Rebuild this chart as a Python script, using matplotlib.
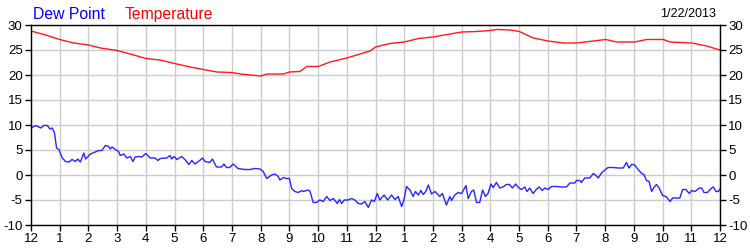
import numpy as np
import matplotlib
matplotlib.use("Agg")
import matplotlib.pyplot as plt

plt.rcParams["font.family"] = ["Liberation Sans", "DejaVu Sans"]
plt.rcParams["axes.unicode_minus"] = False

# hours since midnight, temperature readings
temp_hours = [0, 0.45, 1.0, 1.49, 2.0, 2.42, 3.0, 3.58, 4.0, 4.5, 5.0, 5.55, 6.0, 6.48,
              7.0, 7.29, 8.0, 8.22, 8.8, 9.0, 9.37, 9.6, 10.0, 10.42, 11.0, 11.46, 11.81,
              12.0, 12.5, 13.0, 13.5, 14.0, 14.5, 15.0, 15.53, 16.0, 16.23, 16.69, 17.01,
              17.5, 18.01, 18.55, 19.01, 19.59, 20.02, 20.4, 21.03, 21.45, 22.03, 22.26,
              23.02, 23.53, 24.0]
temp_vals = [28.8, 28.1, 27.1, 26.4, 26.0, 25.4, 24.9, 24.0, 23.3, 23.0, 22.3, 21.6, 21.1, 20.6,
             20.5, 20.2, 19.8, 20.2, 20.2, 20.6, 20.7, 21.7, 21.7, 22.6, 23.4, 24.2, 24.8,
             25.6, 26.3, 26.6, 27.3, 27.6, 28.1, 28.6, 28.7, 28.9, 29.1, 29.0, 28.7,
             27.4, 26.8, 26.4, 26.4, 26.8, 27.1, 26.6, 26.6, 27.1, 27.1, 26.6,
             26.4, 25.8, 25.0]

dew_hours = [0.00, 0.16, 0.34, 0.45, 0.57, 0.66, 0.74, 0.82, 0.89, 0.97, 1.09, 1.20, 1.32, 1.43,
             1.55, 1.63, 1.72, 1.84, 1.90, 2.07, 2.24, 2.36, 2.47, 2.59, 2.71, 2.76, 2.82, 2.94,
             3.05, 3.11, 3.23, 3.34, 3.46, 3.55, 3.63, 3.75, 3.86, 4.00, 4.15, 4.32, 4.42, 4.50,
             4.73, 4.84, 4.90, 4.98, 5.08, 5.25, 5.36, 5.50, 5.60, 5.71, 5.83, 5.98, 6.06, 6.23,
             6.32, 6.46, 6.64, 6.72, 6.81, 6.92, 7.04, 7.21, 7.45,
             7.63, 7.80, 7.98, 8.09, 8.21, 8.38, 8.50, 8.61, 8.67, 8.79, 8.90, 9.00, 9.08, 9.19,
             9.31, 9.43, 9.48, 9.66, 9.72, 9.83, 9.95, 10.06, 10.18, 10.30, 10.41, 10.53, 10.67,
             10.74, 10.82, 10.91, 11.05, 11.17, 11.28, 11.40, 11.51, 11.63, 11.75, 11.86, 11.96,
             12.06, 12.15, 12.30, 12.42, 12.56, 12.68, 12.79, 12.91, 12.99, 13.08, 13.20, 13.31,
             13.39, 13.49, 13.58, 13.66, 13.75, 13.84, 13.95, 14.07, 14.24, 14.33, 14.47, 14.59,
             14.65, 14.76, 14.88, 15.00, 15.15, 15.23, 15.34, 15.42, 15.52, 15.63, 15.73, 15.83,
             15.92, 16.02, 16.10, 16.21,
             16.33, 16.44, 16.56, 16.67, 16.77, 16.88, 17.00, 17.08, 17.20, 17.28, 17.37, 17.49,
             17.60, 17.70, 17.81, 17.90, 18.01, 18.13, 18.30, 18.48, 18.65, 18.77, 18.94, 19.00,
             19.12, 19.17, 19.29, 19.47, 19.58, 19.64, 19.76, 19.87, 20.01, 20.10, 20.28, 20.45,
             20.63, 20.74, 20.83, 20.92, 21.01, 21.15, 21.27, 21.35, 21.44, 21.53, 21.62, 21.71,
             21.79, 21.88, 22.00, 22.12, 22.26, 22.35, 22.49, 22.60, 22.70, 22.81, 22.93, 23.01,
             23.13, 23.28, 23.36, 23.44, 23.56, 23.71, 23.77, 23.86, 23.94, 24.00]
dew_vals = [9.4, 9.9, 9.4, 9.9, 9.9, 9.2, 9.4, 8.4, 5.4, 5.1, 3.4, 2.7, 2.6, 3.1,
            2.7, 3.2, 2.6, 4.4, 3.2, 4.2, 4.6, 4.9, 4.9, 5.9, 5.7, 5.2, 5.6, 5.1,
            4.7, 3.9, 4.2, 3.4, 3.7, 2.7, 3.6, 3.7, 3.6, 4.3, 3.4, 3.4, 2.9, 3.3,
            3.4, 3.9, 3.2, 3.7, 3.1, 3.7, 3.1, 2.1, 2.9, 2.2, 2.7, 3.4, 2.7, 2.5,
            3.2, 1.6, 1.6, 2.2, 1.5, 1.5, 2.2, 1.3, 1.1,
            1.1, 1.3, 1.2, 0.7, -0.7, 0.0, 0.2, -0.3, -1.0, -0.5, -0.7, -0.7, -2.7, -3.3,
            -3.5, -3.1, -3.3, -3.0, -3.3, -5.5, -5.5, -5.0, -5.3, -4.3, -5.1, -4.7, -5.7,
            -4.9, -5.7, -5.0, -5.0, -4.7, -5.0, -5.7, -5.8, -5.3, -6.5, -5.0, -5.3,
            -3.7, -5.0, -4.0, -5.0, -4.0, -4.9, -4.3, -6.3, -5.0, -2.3, -3.0, -4.3,
            -3.3, -4.0, -3.1, -3.9, -3.3, -2.0, -3.8, -3.3, -4.3, -3.7, -6.0, -4.3,
            -5.1, -4.0, -3.5, -3.7, -2.1, -4.7, -3.3, -3.0, -5.5, -5.5, -3.0, -4.3,
            -3.7, -1.8, -2.5, -1.5,
            -2.6, -2.4, -1.9, -1.9, -2.6, -1.8, -2.6, -2.9, -2.4, -3.3, -2.6, -3.7,
            -2.9, -2.4, -3.1, -2.6, -2.9, -2.3, -2.3, -2.4, -2.4, -1.6, -1.6, -1.1,
            -1.1, -1.5, -0.6, -0.6, 0.3, 0.1, -0.6, 0.4, 1.1, 1.5, 1.5, 1.4,
            1.4, 2.5, 1.4, 2.1, 2.1, 1.1, 0.3, 0.1, -1.1, -1.3, -3.3, -2.4,
            -1.9, -2.6, -4.1, -4.3, -5.3, -4.6, -4.6, -4.6, -2.9, -2.9, -3.7, -3.1,
            -3.3, -2.6, -2.6, -3.5, -3.5, -2.6, -2.4, -3.3, -3.3, -2.8]

hour_labels = ["12"] + [str(h) for h in range(1, 12)] + ["12"] + [str(h) for h in range(1, 12)] + ["12"]
y_ticks = [-10, -5, 0, 5, 10, 15, 20, 25, 30]
date_str = "1/22/2013"

fig = plt.figure(figsize=(7.5, 2.5), dpi=100)
ax = fig.add_axes([31/750, 0.1, 689/750, 0.8])

ax.plot(dew_hours, dew_vals, color="#2626ff", lw=1.0)
ax.plot(temp_hours, temp_vals, color="#ff1a1a", lw=1.0)

ax.set_xlim(0, 24)
ax.set_ylim(-10, 30)
ax.set_xticks(np.arange(25))
ax.set_xticklabels(hour_labels)
ax.set_yticks(y_ticks)
ax.grid(True, color="#cccccc", lw=1.0)
ax.set_axisbelow(True)
ax.tick_params(axis="both", direction="out", length=4, width=1, labelsize=9.5,
               colors="black", pad=2)
ax.tick_params(axis="y", left=True, right=True, labelleft=True, labelright=True)
for spine in ax.spines.values():
    spine.set_edgecolor("black")
    spine.set_linewidth(1.0)

fig.text(33/750, 1 - 19/250, "Dew Point", color="blue", fontsize=11.3, va="baseline")
fig.text(125/750, 1 - 19/250, "Temperature", color="red", fontsize=11.3, va="baseline")
fig.text(716/750, 1 - 17/250, date_str, color="black", fontsize=9, va="baseline", ha="right")

fig.savefig("out.png", dpi=100)
